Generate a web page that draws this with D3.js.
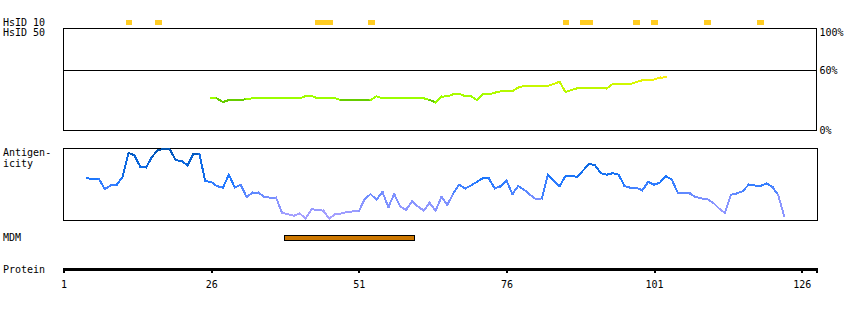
<!DOCTYPE html>
<html><head><meta charset="utf-8">
<script src="https://cdn.jsdelivr.net/npm/d3@7"></script>
<style>
body{margin:0;background:#fff}
svg{display:block}
text{font-family:"DejaVu Sans Mono",monospace;font-size:10px;fill:#000}
</style>
</head><body>
<svg id="c" width="850" height="310"></svg>
<script>
// ---------- data ----------
const proteinLength = 128;
const tickResidues = [1, 26, 51, 76, 101, 126];
const hsid10Ranges = [[12,12],[17,17],[44,46],[53,53],[86,86],[89,90],[98,98],[101,101],[110,110],[119,119]];
const mdmRanges = [[39,60]];
const identityTicks = [0, 60, 100];
const identityTickLabels = ["0%", "60%", "100%"];
const identityStart = 26;
const identityValues = [
  31.7,31.5,28,30,30,30,30.8,31.7,31.7,31.7,
  31.7,31.7,31.7,31.7,31.7,31.7,34,34,31.7,31.7,
  31.7,31.7,30,30,30,30,30,30,33.7,31.7,
  31.7,31.7,31.7,31.7,31.7,31.7,31.7,30,27.7,33.3,
  33.7,35.7,36,34,33.7,30,35.7,35.7,37.3,38.7,
  38.7,38.7,42.5,44,44,44,44,44,46,48.3,
  38,40,41.7,41.7,41.7,41.7,41.7,41.7,46,46,
  46,46,48,49.7,50,50.5,52.3,52.7
];
const antigenStart = 5;
const antigenValues = [
  0.58,0.57,0.57,0.43,0.48,0.49,0.60,0.93,0.90,0.74,
  0.73,0.88,0.97,0.99,0.98,0.83,0.82,0.76,0.92,0.92,
  0.54,0.53,0.47,0.45,0.63,0.45,0.49,0.32,0.38,0.38,
  0.32,0.31,0.31,0.10,0.08,0.06,0.09,0.02,0.15,0.14,
  0.13,0.02,0.08,0.09,0.11,0.12,0.12,0.29,0.36,0.28,
  0.39,0.18,0.36,0.19,0.14,0.26,0.19,0.13,0.24,0.13,
  0.32,0.21,0.37,0.49,0.44,0.48,0.53,0.58,0.58,0.44,
  0.47,0.55,0.36,0.47,0.42,0.35,0.29,0.30,0.63,0.55,
  0.47,0.61,0.61,0.60,0.69,0.78,0.76,0.65,0.63,0.65,
  0.63,0.47,0.45,0.45,0.41,0.53,0.49,0.52,0.61,0.56,
  0.38,0.38,0.37,0.32,0.30,0.29,0.24,0.16,0.10,0.35,
  0.37,0.40,0.49,0.48,0.47,0.51,0.46,0.35,0.06
];

// ---------- drawing ----------
const svg = d3.select("#c").attr("shape-rendering", "crispEdges");
const left = 63.5, right = 816.5;
const x = d3.scaleLinear().domain([1, proteinLength + 0.5]).range([left, right]);
const yId = d3.scaleLinear().domain([0, 60, 100]).range([130, 70, 28]);
const yAg = d3.scaleLinear().domain([0, 1]).range([220, 148]);

const idColor = v => v <= 30.45 ? "#66cc00"
  : d3.scaleLinear().domain([31, 40, 48, 53]).range(["#99ff00", "#b8f800", "#d6f800", "#ffee11"]).clamp(true)(v);
const agColor = d3.scaleLinear().domain([0, 0.3, 0.55, 0.8, 1])
  .range(["#b0a4ff", "#7a90ff", "#1f78ff", "#0a66dd", "#0050a8"]).clamp(true);

// left labels
const labels = [["HsID 10", 26], ["HsID 50", 36], ["Antigen-", 156], ["icity", 166.5], ["MDM", 241], ["Protein", 272.5]];
svg.selectAll("text.lab").data(labels).join("text").attr("class", "lab")
  .attr("x", 3).attr("y", d => d[1]).text(d => d[0]);

// HsID 10 marks
svg.selectAll("rect.hs").data(hsid10Ranges).join("rect").attr("class", "hs")
  .attr("x", d => x(d[0] - 0.5)).attr("y", 20)
  .attr("width", d => x(d[1] + 0.5) - x(d[0] - 0.5) + 1).attr("height", 5)
  .attr("fill", "#ffcc22");

// identity panel
svg.append("rect").attr("x", left).attr("y", 28.5).attr("width", right - left).attr("height", 101.5)
  .attr("fill", "none").attr("stroke", "#000");
svg.append("line").attr("x1", left).attr("x2", right).attr("y1", yId(60) + 0.5).attr("y2", yId(60) + 0.5)
  .attr("stroke", "#000");
svg.selectAll("text.idt").data(identityTicks).join("text").attr("class", "idt")
  .attr("x", 819.5).attr("y", d => Math.max(yId(d) + 3.8, 36)).text((d, i) => identityTickLabels[i]);

const idSegs = d3.pairs(identityValues.map((v, i) => [identityStart + i, v]));
svg.append("g").selectAll("line").data(idSegs).join("line")
  .attr("x1", d => x(d[0][0])).attr("y1", d => yId(d[0][1]))
  .attr("x2", d => x(d[1][0])).attr("y2", d => yId(d[1][1]))
  .attr("stroke", d => idColor((d[0][1] + d[1][1]) / 2)).attr("stroke-width", 2)
  .attr("stroke-linecap", "square");

// antigenicity panel
svg.append("rect").attr("x", left).attr("y", 148.5).attr("width", right - left + 1).attr("height", 72)
  .attr("fill", "none").attr("stroke", "#000");
const agSegs = d3.pairs(antigenValues.map((v, i) => [antigenStart + i, v]));
svg.append("g").selectAll("line").data(agSegs).join("line")
  .attr("x1", d => x(d[0][0])).attr("y1", d => yAg(d[0][1]))
  .attr("x2", d => x(d[1][0])).attr("y2", d => yAg(d[1][1]))
  .attr("stroke", d => agColor((d[0][1] + d[1][1]) / 2)).attr("stroke-width", 2)
  .attr("stroke-linecap", "square");

// MDM
svg.selectAll("rect.mdm").data(mdmRanges).join("rect").attr("class", "mdm")
  .attr("x", d => x(d[0] - 0.5)).attr("y", 235.5)
  .attr("width", d => x(d[1] + 0.5) - x(d[0] - 0.5)).attr("height", 5)
  .attr("fill", "#cc7700").attr("stroke", "#000");

// protein axis
const axisG = svg.append("g").attr("transform", "translate(0,269)");
const axis = d3.axisBottom(x).tickValues(tickResidues.concat([proteinLength + 0.5]))
  .tickFormat(d => tickResidues.includes(d) ? d : "").tickSize(4).tickPadding(8);
axisG.call(axis);
axisG.select(".domain").remove();
axisG.selectAll(".tick line").attr("stroke", "#000").attr("stroke-width", 2);
axisG.selectAll(".tick text").attr("font-family", "DejaVu Sans Mono").attr("font-size", 10).attr("fill", "#000");
axisG.append("line").attr("x1", left - 0.5).attr("x2", right + 1).attr("y1", 0).attr("y2", 0)
  .attr("stroke", "#000").attr("stroke-width", 3);
</script>
</body></html>
